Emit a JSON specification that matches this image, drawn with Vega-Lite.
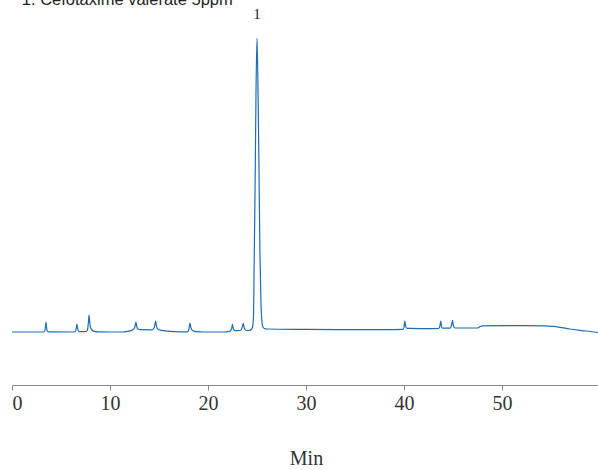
{
  "$schema": "https://vega.github.io/schema/vega-lite/v6.json",
  "autosize": {"type": "none"},
  "padding": {"left": 12, "top": 0, "right": 0, "bottom": 85},
  "width": 588,
  "height": 385,
  "config": {"view": {"stroke": null}},
  "layer": [
    {
      "data": {"values": [
        {"t": 0, "s": 0}, {"t": 3.2, "s": 0}, {"t": 3.35, "s": 1}, {"t": 3.42, "s": 6}, {"t": 3.47, "s": 10}, {"t": 3.52, "s": 5}, {"t": 3.6, "s": 1}, {"t": 3.75, "s": 0.2},
        {"t": 6.35, "s": 0}, {"t": 6.5, "s": 1}, {"t": 6.58, "s": 5}, {"t": 6.63, "s": 8}, {"t": 6.68, "s": 4.5}, {"t": 6.78, "s": 1}, {"t": 6.95, "s": 0.3},
        {"t": 7.6, "s": 0.5}, {"t": 7.72, "s": 3}, {"t": 7.8, "s": 10}, {"t": 7.86, "s": 17}, {"t": 7.92, "s": 11}, {"t": 8.0, "s": 5}, {"t": 8.15, "s": 2}, {"t": 8.4, "s": 0.6}, {"t": 8.8, "s": 0.1},
        {"t": 11.3, "s": 0}, {"t": 11.8, "s": 0.7}, {"t": 12.3, "s": 2}, {"t": 12.5, "s": 4}, {"t": 12.6, "s": 8}, {"t": 12.65, "s": 10}, {"t": 12.72, "s": 6}, {"t": 12.85, "s": 3}, {"t": 13.1, "s": 2.3},
        {"t": 14.3, "s": 2.2}, {"t": 14.5, "s": 4}, {"t": 14.6, "s": 8.5}, {"t": 14.66, "s": 11}, {"t": 14.72, "s": 7}, {"t": 14.85, "s": 3.2}, {"t": 15.2, "s": 1.6}, {"t": 16, "s": 0.8}, {"t": 17, "s": 0.2},
        {"t": 17.9, "s": 0.2}, {"t": 18.05, "s": 3}, {"t": 18.16, "s": 9}, {"t": 18.25, "s": 4.5}, {"t": 18.45, "s": 1.2}, {"t": 18.8, "s": 0.3}, {"t": 19.5, "s": 0},
        {"t": 21.6, "s": 0}, {"t": 22.2, "s": 0.6}, {"t": 22.4, "s": 3}, {"t": 22.5, "s": 7.7}, {"t": 22.58, "s": 3.5}, {"t": 22.75, "s": 1.3},
        {"t": 23.3, "s": 1.5}, {"t": 23.5, "s": 5}, {"t": 23.6, "s": 8.7}, {"t": 23.7, "s": 4}, {"t": 23.9, "s": 1.5},
        {"t": 24.2, "s": 1.5}, {"t": 24.4, "s": 2.5}, {"t": 24.55, "s": 5}, {"t": 24.65, "s": 18}, {"t": 24.7, "s": 60}, {"t": 24.8, "s": 140}, {"t": 24.9, "s": 240}, {"t": 25.0, "s": 294}, {"t": 25.1, "s": 245}, {"t": 25.2, "s": 165}, {"t": 25.3, "s": 80}, {"t": 25.4, "s": 30}, {"t": 25.5, "s": 11}, {"t": 25.6, "s": 5}, {"t": 25.75, "s": 3.5}, {"t": 26.0, "s": 3},
        {"t": 30, "s": 2.6}, {"t": 34, "s": 2.3}, {"t": 38, "s": 2.3},
        {"t": 39.9, "s": 2.6}, {"t": 40.0, "s": 5}, {"t": 40.08, "s": 11}, {"t": 40.15, "s": 7}, {"t": 40.25, "s": 4}, {"t": 40.4, "s": 3.7},
        {"t": 43, "s": 3.4}, {"t": 43.55, "s": 3.5}, {"t": 43.66, "s": 6}, {"t": 43.76, "s": 11}, {"t": 43.83, "s": 5}, {"t": 43.95, "s": 3.8},
        {"t": 44.7, "s": 3.9}, {"t": 44.85, "s": 7}, {"t": 44.95, "s": 11.7}, {"t": 45.05, "s": 6}, {"t": 45.2, "s": 4},
        {"t": 47.5, "s": 4}, {"t": 47.7, "s": 5}, {"t": 48.0, "s": 6.2}, {"t": 52, "s": 6.3}, {"t": 54.4, "s": 6.2}, {"t": 55.2, "s": 5.6}, {"t": 55.9, "s": 4.7}, {"t": 56.9, "s": 3}, {"t": 58.6, "s": 1}, {"t": 59.8, "s": -0.5}
      ]},
      "mark": {"type": "line", "color": "#1f6db5", "strokeWidth": 1.2, "interpolate": "monotone"},
      "encoding": {
        "x": {"field": "t", "type": "quantitative", "scale": {"domain": [0, 60], "nice": false},
          "axis": {"values": [0, 10, 20, 30, 40, 50], "grid": false, "title": "Min", "domainColor": "#888888", "tickColor": "#888888", "tickSize": 5, "labelFont": "Liberation Serif", "labelFontSize": 20, "labelColor": "#333333", "labelPadding": 3, "titleFont": "Liberation Serif", "titleFontSize": 20, "titleFontWeight": "normal", "titleColor": "#333333", "titlePadding": 35}},
        "y": {"field": "s", "type": "quantitative", "scale": {"domain": [-53, 332], "nice": false, "zero": false}, "axis": null}
      }
    },
    {
      "data": {"values": [
        {"t": 1.0, "s": 327, "label": "1. Cefotaxime valerate 5ppm"}
      ]},
      "mark": {"type": "text", "align": "left", "baseline": "alphabetic", "font": "Liberation Sans", "fontSize": 16.5, "color": "#222222"},
      "encoding": {
        "x": {"field": "t", "type": "quantitative"},
        "y": {"field": "s", "type": "quantitative"},
        "text": {"field": "label"}
      }
    },
    {
      "data": {"values": [
        {"t": 25.0, "s": 313, "label": "1"}
      ]},
      "mark": {"type": "text", "align": "center", "baseline": "alphabetic", "font": "Liberation Serif", "fontSize": 15, "color": "#222222"},
      "encoding": {
        "x": {"field": "t", "type": "quantitative"},
        "y": {"field": "s", "type": "quantitative"},
        "text": {"field": "label"}
      }
    }
  ]
}
